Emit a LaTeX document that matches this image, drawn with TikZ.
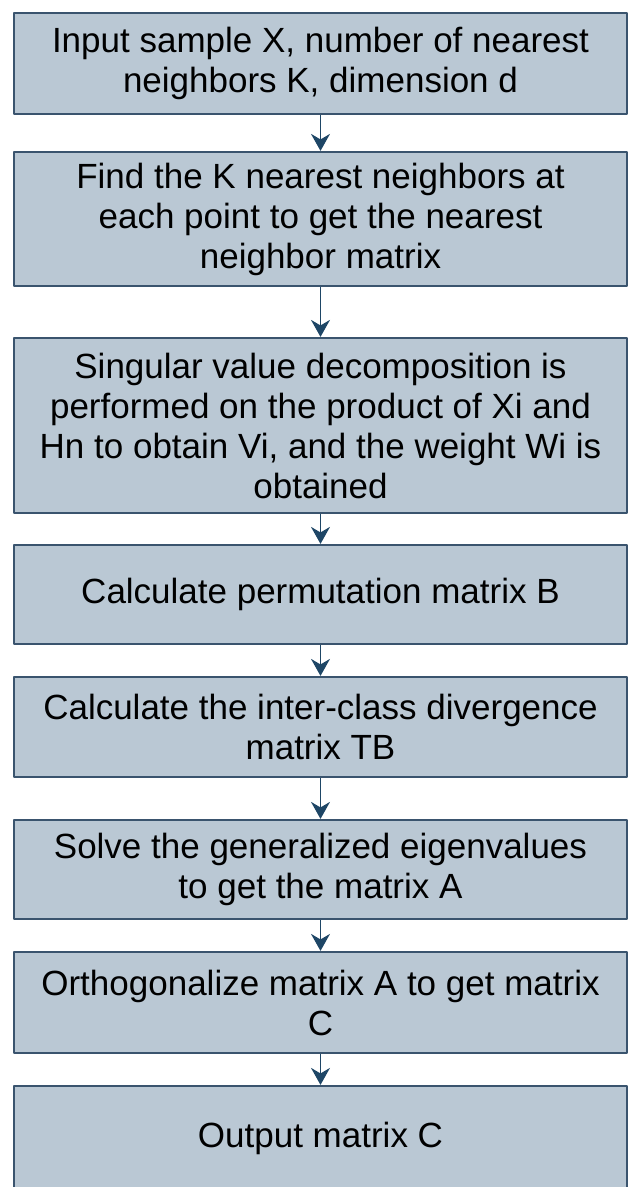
\documentclass[tikz,border=0pt]{standalone}
\usepackage{fontspec}
\setmainfont{Liberation Sans}
\usetikzlibrary{arrows.meta}
\definecolor{boxfill}{RGB}{186,200,212}
\definecolor{boxline}{RGB}{58,84,110}
\definecolor{arrowcol}{RGB}{30,70,102}
\begin{document}
\begin{tikzpicture}[x=1pt, y=-1pt, line join=round, >={Stealth[length=17pt,width=19pt]}]
	\tikzset{stepbox/.style={draw=boxline, fill=boxfill, line width=2.2pt, inner sep=0pt,
			minimum width=613pt, align=center, text=black,
			font=\fontsize{35}{40}\selectfont},
		flow/.style={->, draw=arrowcol, line width=1.6pt}
	}
	\useasboundingbox (0,0) rectangle (631,1187);
	\node[stepbox, minimum height=101pt] (input) at (320.5,63.5) {Input sample X, number of nearest\\neighbors K, dimension d};
	\node[stepbox, minimum height=134pt] (knn) at (320.5,219) {Find the K nearest neighbors at\\each point to get the nearest\\neighbor matrix};
	\node[stepbox, minimum height=175pt] (svd) at (320.5,425.5) {Singular value decomposition is\\performed on the product of Xi and\\Hn to obtain Vi, and the weight Wi is\\obtained};
	\node[stepbox, minimum height=99pt] (perm) at (320.5,594.5) {Calculate permutation matrix B};
	\node[stepbox, minimum height=100pt] (diverg) at (320.5,727) {Calculate the inter-class divergence\\matrix TB};
	\node[stepbox, minimum height=99pt] (eigen) at (320.5,869.5) {Solve the generalized eigenvalues\\to get the matrix A};
	\node[stepbox, minimum height=101pt] (ortho) at (320.5,1002.5) {Orthogonalize matrix A to get matrix\\C};
	\node[stepbox, minimum height=104pt] (output) at (320.5,1138) {Output matrix C};
	\foreach \a/\b in {input/knn, knn/svd, svd/perm, perm/diverg, diverg/eigen, eigen/ortho, ortho/output}
		\draw[flow] (\a.south) -- (\b.north);
\end{tikzpicture}
\end{document}
